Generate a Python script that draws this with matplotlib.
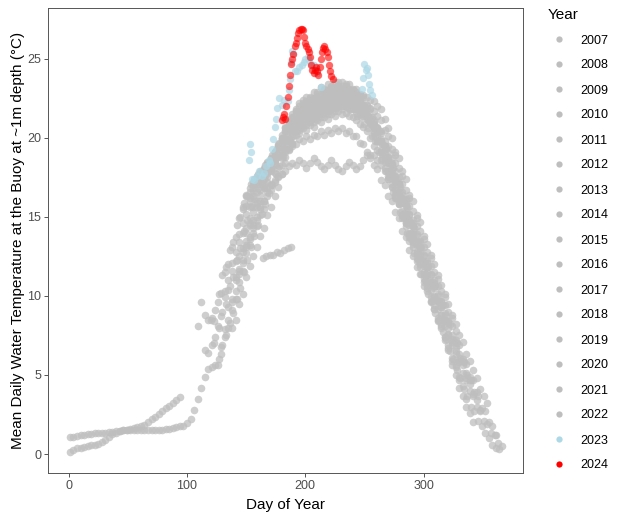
import numpy as np
import matplotlib.pyplot as plt
from matplotlib.lines import Line2D

plt.rcParams['font.family'] = ['Liberation Sans', 'DejaVu Sans']

# values every third day, each stretch starts at the given day
STEP = 3

t2007 = [10.3, 11.0, 12.1, 12.8, 13.9, 14.6, 15.7, 16.2, 16.8, 17.1, 17.4, 17.8, 18.3, 18.6, 19.1, 19.4,
         19.9, 20.4, 20.9, 21.0, 21.5, 21.4, 21.9, 21.8, 22.1, 21.9, 22.4, 22.3, 22.6, 22.4, 22.8, 22.7,
         23.0, 22.8, 22.7, 22.9, 22.5, 22.4, 22.0, 21.9, 21.4, 21.0, 20.3, 19.8, 19.2, 18.7, 17.9, 17.5,
         16.7, 16.3, 15.4, 14.9, 14.0, 13.6, 12.8, 12.3, 11.4]
t2008 = [11.2, 12.5, 13.0, 14.3, 14.6, 15.6, 15.9, 16.7, 16.9, 17.8, 18.0, 18.6, 18.9, 19.2, 19.7, 19.9,
         20.4, 20.5, 20.9, 20.8, 21.2, 21.0, 21.4, 21.5, 21.5, 21.8, 21.7, 22.0, 21.9, 22.2, 22.0, 22.2,
         21.9, 22.0, 21.8, 21.7, 21.5, 21.4, 21.2, 21.0, 20.6, 20.3, 19.5, 19.1, 18.3, 17.9, 17.1, 16.6,
         15.7, 15.2, 14.4, 13.9, 13.1, 12.6, 11.8, 11.4, 10.5, 10.1, 9.3, 8.9]
t2009 = [5.6, 6.3, 7.4, 8.0, 9.1, 9.8, 10.9, 11.6, 12.7, 13.2, 14.0, 14.4, 15.1, 15.5, 16.3, 16.7, 17.3,
         17.6, 18.3, 18.8, 19.4, 19.6, 20.2, 20.3, 20.6, 20.5, 20.8, 20.7, 21.1, 21.0, 21.3, 21.2, 21.5,
         21.4, 21.7, 21.5, 21.6, 21.4, 21.3, 21.1, 20.9, 20.7, 20.4, 20.0, 19.5, 19.2, 18.6, 18.1, 17.4,
         16.9, 16.2, 15.8, 14.9, 14.4, 13.5, 13.1, 12.2, 11.8, 10.9, 10.5, 9.7, 9.2, 8.4, 8.0, 7.2, 6.7,
         5.9, 5.5, 4.7, 4.3, 3.5]
t2010 = [8.5, 8.4, 9.6, 10.2, 11.5, 12.0, 13.1, 13.7, 14.9, 15.5, 16.4, 16.6, 17.0, 17.4, 17.8, 18.0,
         18.4, 18.7, 19.1, 19.5, 20.0, 20.4, 20.9, 21.2, 21.7, 22.0, 22.4, 22.3, 22.6, 22.5, 22.9, 22.8,
         23.1, 23.0, 23.3, 23.2, 23.5, 23.3, 23.4, 23.1, 23.0, 22.7, 22.5, 22.1, 21.8, 21.3, 20.8, 20.4,
         19.7, 19.3, 18.4, 18.0, 17.2, 16.8, 15.9, 15.4, 14.5, 14.1, 13.2, 12.8, 11.9, 11.5, 10.7]
t2011 = [9.3, 9.8, 11.0, 11.7, 12.8, 13.5, 14.5, 14.8, 15.6, 16.0, 16.8, 17.2, 17.9, 18.3, 18.9, 19.4,
         20.0, 20.4, 20.9, 21.0, 21.5, 21.5, 21.8, 21.7, 22.0, 22.0, 22.3, 22.2, 22.5, 22.4, 22.7, 22.6,
         22.8, 22.6, 22.7, 22.5, 22.5, 22.3, 22.2, 22.0, 21.9, 21.7, 21.4, 21.1, 20.5, 20.1, 19.3, 18.9,
         18.1, 17.6, 16.7, 16.2, 15.4, 14.9, 14.1, 13.6, 12.8, 12.4, 11.5, 11.1, 10.3, 9.9, 9.0, 8.6, 7.8]
t2012 = [8.1, 9.6, 8.8, 8.5, 8.6, 9.1, 10.1, 11.3, 11.8, 12.9, 13.4, 14.5, 15.0, 15.9, 16.3, 17.1, 17.4,
         17.7, 17.9, 18.3, 18.5, 18.9, 19.2, 19.7, 20.0, 20.6, 20.8, 21.3, 21.3, 21.7, 21.6, 22.0, 21.8,
         22.2, 22.0, 22.4, 22.2, 22.6, 22.5, 22.8, 22.6, 22.9, 22.6, 22.7, 22.3, 22.2, 21.8, 21.6, 21.1,
         20.8, 20.1, 19.8, 19.0, 18.6, 17.8, 17.4, 16.5, 16.1, 15.2, 14.8, 13.9, 13.5, 12.6, 12.2, 11.3]
t2013 = [8.0, 8.5, 9.5, 10.1, 11.2, 11.9, 12.5, 13.1, 13.8, 14.3, 15.1, 15.6, 16.3, 16.9, 17.7, 18.4,
         19.2, 19.7, 20.4, 20.5, 20.9, 20.8, 21.1, 21.0, 21.4, 21.3, 21.6, 21.5, 21.8, 21.7, 22.0, 21.8,
         22.0, 21.8, 21.8, 21.6, 21.5, 21.4, 21.3, 21.1, 20.9, 20.6, 20.4, 19.8, 19.5, 18.7, 18.4, 17.5,
         17.1, 16.1, 15.7, 14.8, 14.4, 13.5, 13.1, 12.2, 11.9, 11.0, 10.6, 9.7, 9.4, 8.4, 8.1, 7.2, 6.9,
         6.0, 5.7, 4.9, 4.7, 3.9]
t2014 = [15.6, 16.3, 16.8, 17.2, 17.6, 17.9, 18.1, 18.5, 18.7, 19.1, 19.6, 20.2, 20.7, 21.2, 21.3, 21.7,
         21.7, 22.1, 22.0, 22.4, 22.3, 22.6, 22.6, 22.9, 22.8, 23.1, 23.0, 23.3, 23.1, 23.2, 23.0, 23.0,
         22.9, 22.8, 22.7, 22.6, 22.4, 22.3, 22.0, 21.8, 21.2, 20.6, 20.0, 19.1, 18.7, 17.9, 17.4, 16.4,
         16.0, 15.1, 14.7, 13.8, 13.3, 12.6, 12.0, 11.3, 10.7, 10.1, 9.5, 8.8, 8.2, 7.5, 7.1, 6.3, 5.9,
         5.3, 4.8, 4.1, 3.7, 3.2]
t2015 = [6.8, 7.9, 8.5, 9.6, 10.3, 11.4, 12.1, 13.2, 13.7, 14.5, 15.0, 15.6, 16.0, 16.8, 17.1, 17.8,
         18.1, 18.7, 19.2, 19.8, 20.1, 20.7, 20.9, 21.4, 21.2, 21.6, 21.4, 21.9, 21.7, 22.1, 21.9, 22.3,
         22.1, 22.5, 22.3, 22.5, 22.2, 22.3, 21.9, 21.9, 21.5, 21.4, 20.9, 20.7, 20.1, 19.8, 19.0, 18.6,
         17.8, 17.4, 16.6, 16.1, 15.2, 14.7, 13.9, 13.4, 12.6, 12.1, 11.3, 10.9, 10.0, 9.6, 8.8, 8.4, 7.5,
         7.1, 6.3, 5.9, 5.1, 4.7, 4.0, 3.7, 3.0, 2.7, 2.1, 1.9, 1.3, 1.2, 0.7, 0.5]
t2016 = [7.0, 8.1, 8.7, 9.9, 10.4, 11.6, 12.2, 13.4, 14.0, 15.2, 15.6, 16.3, 16.6, 17.2, 17.4, 17.9,
         18.2, 18.6, 18.8, 18.9, 19.1, 19.3, 19.5, 19.6, 19.9, 19.8, 20.1, 19.9, 20.2, 20.1, 20.4, 20.2,
         20.5, 20.3, 20.6, 20.4, 20.6, 20.3, 20.4, 20.1, 20.1, 19.7, 19.6, 19.1, 18.9, 18.3, 18.0, 17.3,
         17.0, 16.3, 16.0, 15.3, 14.9, 14.1, 13.7, 12.9, 12.5, 11.8, 11.4, 10.6, 10.3, 9.6, 9.2, 8.5, 8.1,
         7.4, 6.6, 5.6, 5.0, 4.2, 3.7, 3.0, 2.6, 2.0]
t2017 = [6.6, 6.4, 6.9, 7.4, 8.0, 9.0, 9.5, 10.6, 11.2, 12.3, 13.0, 14.1, 14.8, 15.7, 16.1, 16.8, 17.1,
         17.6, 17.9, 18.5, 18.8, 19.4, 19.7, 20.3, 20.5, 21.0, 21.1, 21.6, 21.6, 21.9, 21.8, 22.2, 22.1,
         22.5, 22.3, 22.7, 22.5, 22.9, 22.7, 22.9, 22.6, 22.8, 22.4, 22.5, 22.0, 22.0, 21.4, 21.3, 20.6,
         20.4, 19.6, 19.3, 18.4, 18.1, 17.2, 16.9, 15.9, 15.6, 14.6, 14.3, 13.3, 13.0, 12.1, 11.8, 10.9,
         10.6, 9.7, 9.4, 8.5, 8.2, 7.3, 7.0, 6.1, 5.8, 5.0, 4.7, 3.9, 3.7, 2.9, 2.7, 2.0, 1.8, 1.2]
t2018 = [1.1, 1.1, 1.15, 1.2, 1.2, 1.25, 1.25, 1.3, 1.3, 1.3, 1.35, 1.4, 1.4, 1.45, 1.45, 1.5, 1.5, 1.5,
         1.5, 1.5, 1.5, 1.5, 1.5, 1.5, 1.5, 1.55, 1.55, 1.6, 1.6, 1.65, 1.7, 1.75, 1.8, 1.95, 2.2, 2.8,
         3.5, 4.2, 4.9, 5.4, 5.5, 5.6, 6.0, 6.9, 7.5, 8.3, 8.9, 9.8, 10.5, 11.5, 12.3, 13.1, 13.8, 14.5,
         15.2, 15.8, 16.5, 17.0, 17.7, 18.2, 18.8, 19.3, 19.8, 20.1, 20.5, 20.7, 21.1, 21.0, 21.3, 21.2,
         21.6, 21.5, 21.8, 21.7, 22.0, 21.9, 22.2, 22.0, 22.1, 21.8, 21.8, 21.4, 21.3, 20.9, 20.6, 20.1,
         19.8, 19.1, 18.7, 17.9, 17.5, 16.6, 16.2, 15.3, 14.9, 14.0, 13.6, 12.7, 12.3, 11.4, 11.0, 10.1,
         9.7, 8.9, 8.5, 7.7, 7.3, 6.5, 6.0, 5.3, 4.8, 4.1, 3.7, 3.0, 2.7, 2.1, 1.8, 1.3, 1.0, 0.6, 0.4, 0.3]
t2019a = [0.15, 0.25, 0.35, 0.4, 0.45, 0.5, 0.55, 0.6, 0.65, 0.75, 0.9, 1.1, 1.25, 1.35, 1.45, 1.5, 1.55,
          1.6, 1.65, 1.7, 1.75, 1.85, 2.0, 2.2, 2.35, 2.55, 2.75, 2.9, 3.05, 3.25, 3.4, 3.6]
t2019b = [14.0, 14.9, 15.3, 16.0, 16.4, 17.1, 17.5, 18.1, 18.4, 19.0, 19.3, 19.8, 20.0, 20.6, 20.6, 21.1,
          21.0, 21.5, 21.3, 21.7, 21.6, 22.0, 21.8, 22.2, 22.0, 22.4, 22.1, 22.5, 22.1, 22.4, 22.0, 22.1,
          21.7, 21.7, 21.2, 21.1, 20.6, 20.4, 19.8, 19.5, 18.8, 18.4, 17.6, 17.2, 16.4, 16.0, 15.1, 14.6,
          13.8, 13.4, 12.5, 12.1, 11.3, 10.8, 10.0, 9.6, 8.8, 8.3, 7.5, 7.1, 6.3, 5.9, 5.1, 4.7]
t2020 = [11.6, 12.3, 13.1, 13.6, 14.3, 14.8, 15.5, 16.0, 16.6, 17.0, 17.2, 17.5, 17.7, 17.9, 18.2, 18.4,
         18.3, 18.6, 18.4, 18.1, 18.4, 18.7, 18.5, 18.2, 18.0, 18.3, 18.6, 18.3, 18.0, 17.9, 18.2, 18.5,
         18.3, 18.0, 18.2, 18.6, 18.9, 18.7, 18.9, 18.6, 18.3, 17.9, 17.4, 16.9, 16.3, 15.8, 15.1, 14.6,
         13.9, 13.4, 12.7, 12.2, 11.5, 11.0, 10.4, 9.9, 9.2, 8.8, 8.1, 7.6, 6.9, 6.5, 5.8]
t2021a = [12.4, 12.5, 12.6, 12.6, 12.8, 12.7, 12.9, 13.0, 13.1]
t2021b = [21.5, 21.8, 22.0, 22.2, 22.1, 22.5, 22.4, 22.7, 22.6, 22.9, 22.8, 23.1, 22.9, 23.0, 22.8, 22.7,
          22.4, 22.2, 21.8, 21.5, 21.0, 20.4, 19.8, 19.1, 18.5, 17.6, 17.1, 16.4, 15.9, 15.1, 14.6, 13.7,
          13.3, 12.4, 12.0, 11.1, 10.7, 9.9, 9.4, 8.6, 8.2, 7.4, 6.9, 6.1, 5.6, 4.9]
t2022 = [16.0, 16.6, 17.1, 17.5, 17.8, 18.3, 18.6, 19.1, 19.5, 20.0, 20.6, 21.0, 21.5, 21.8, 22.2, 22.2,
         22.6, 22.5, 22.9, 22.8, 23.2, 23.0, 23.4, 23.2, 23.5, 23.3, 23.5, 23.3, 23.4, 23.1, 23.1, 22.7,
         22.6, 22.1, 21.8, 21.1, 20.7, 19.9, 19.5, 18.7, 18.3, 17.5, 17.1, 16.2, 15.8, 14.8, 14.4, 13.5,
         13.1, 12.2, 11.8, 10.9, 10.6, 9.7, 9.3, 8.5, 8.0, 7.2, 6.8, 5.9, 5.6, 4.8, 4.4, 3.8, 3.4, 2.8]

segments = {
    2007: [(132, t2007)], 2008: [(141, t2008)], 2009: [(126, t2009)], 2010: [(120, t2010)],
    2011: [(135, t2011)], 2012: [(109, t2012)], 2013: [(138, t2013)], 2014: [(147, t2014)],
    2015: [(129, t2015)], 2016: [(123, t2016)], 2017: [(115, t2017)], 2018: [(1, t2018)],
    2019: [(1, t2019a), (150, t2019b)], 2020: [(144, t2020)],
    2021: [(164, t2021a), (195, t2021b)], 2022: [(153, t2022)],
}

# 2023 and 2024 read point by point
d2023 = [152, 153, 154, 155, 157, 159, 161, 163, 165, 167, 169, 170, 172, 173, 174, 175, 176, 178, 180,
         182, 185, 186, 187, 188, 189, 190, 191, 193, 195, 197, 199, 200, 202, 203, 205, 207, 208, 210,
         213, 248, 249, 250, 251, 252, 253, 254, 255, 256]
t2023 = [18.6, 19.6, 19.1, 17.4, 17.3, 17.6, 17.9, 17.6, 17.8, 18.2, 18.6, 18.4, 19.3, 19.9, 20.7, 21.2,
         21.9, 22.5, 22.1, 22.4, 22.3, 23.0, 23.7, 24.8, 25.5, 25.3, 24.2, 24.2, 24.5, 24.6, 24.8, 25.0,
         25.1, 24.9, 24.7, 24.6, 24.4, 24.1, 23.2, 23.1, 23.8, 24.7, 24.3, 24.4, 24.0, 23.4, 23.0, 22.7]
d2024 = [180, 181, 182, 183, 184, 185, 186, 187, 188, 189, 190, 191, 192, 193, 194, 195, 196, 197, 198,
         199, 200, 201, 202, 203, 204, 205, 206, 207, 208, 209, 210, 211, 212, 213, 214, 215, 216, 217,
         218, 219, 220, 221, 222, 223]
t2024 = [21.1, 21.3, 21.5, 21.2, 22.0, 22.6, 23.3, 24.0, 24.7, 25.0, 25.3, 25.8, 26.0, 26.3, 26.6, 26.8,
         26.9, 26.9, 26.8, 26.4, 26.0, 25.8, 25.6, 25.4, 25.1, 24.6, 24.3, 24.1, 24.3, 24.5, 24.2, 24.0,
         24.5, 25.0, 25.4, 25.7, 25.8, 25.6, 25.4, 25.1, 24.6, 24.2, 23.9, 23.7]

years = [2007, 2008, 2009, 2010, 2011, 2012, 2013, 2014, 2015, 2016, 2017, 2018, 2019, 2020, 2021,
         2022, 2023, 2024]
GRAY = '#BEBEBE'
colors = {y: GRAY for y in years}
colors[2023] = '#ADD8E6'
colors[2024] = '#FF0000'

fig = plt.figure(figsize=(6.24, 5.2), dpi=100)
ax = fig.add_axes([0.0774, 0.0898, 0.7612, 0.8948])

for yr in years[:-2]:
    for start, temps in segments[yr]:
        days = start + STEP * np.arange(len(temps))
        ax.scatter(days, temps, s=30, color=GRAY, alpha=0.75, linewidths=0)
ax.scatter(d2023, t2023, s=28, color=colors[2023], alpha=0.7, linewidths=0)
ax.scatter(d2024, t2024, s=28, color=colors[2024], alpha=0.6, linewidths=0)

ax.set_xlim(-17.25, 384.25)
ax.set_ylim(-1.22, 28.21)
ax.set_xticks([0, 100, 200, 300])
ax.set_yticks([0, 5, 10, 15, 20, 25])
for sp in ax.spines.values():
    sp.set_color('#555555')
    sp.set_linewidth(0.7)
ax.tick_params(length=3, width=0.7, color='#555555', labelcolor='#4D4D4D', labelsize=9, pad=2)
ax.set_xlabel('Day of Year', fontsize=11, labelpad=4)
ax.set_ylabel('Mean Daily Water Temperature at the Buoy at ~1m depth (°C)', fontsize=11, labelpad=2)

handles = [Line2D([], [], marker='o', linestyle='', markersize=4.5, markeredgewidth=0,
                  color=colors[y]) for y in years]
leg = fig.legend(handles, [str(y) for y in years], title='Year', loc='upper left',
                 bbox_to_anchor=(0.870, 1 - 3 / 520), frameon=False, fontsize=9, title_fontsize=11,
                 alignment='left', labelspacing=1.04, handlelength=1.76, handletextpad=0.8,
                 borderaxespad=0)
leg._legend_box.sep = 9

fig.savefig('out.png', dpi=100)
